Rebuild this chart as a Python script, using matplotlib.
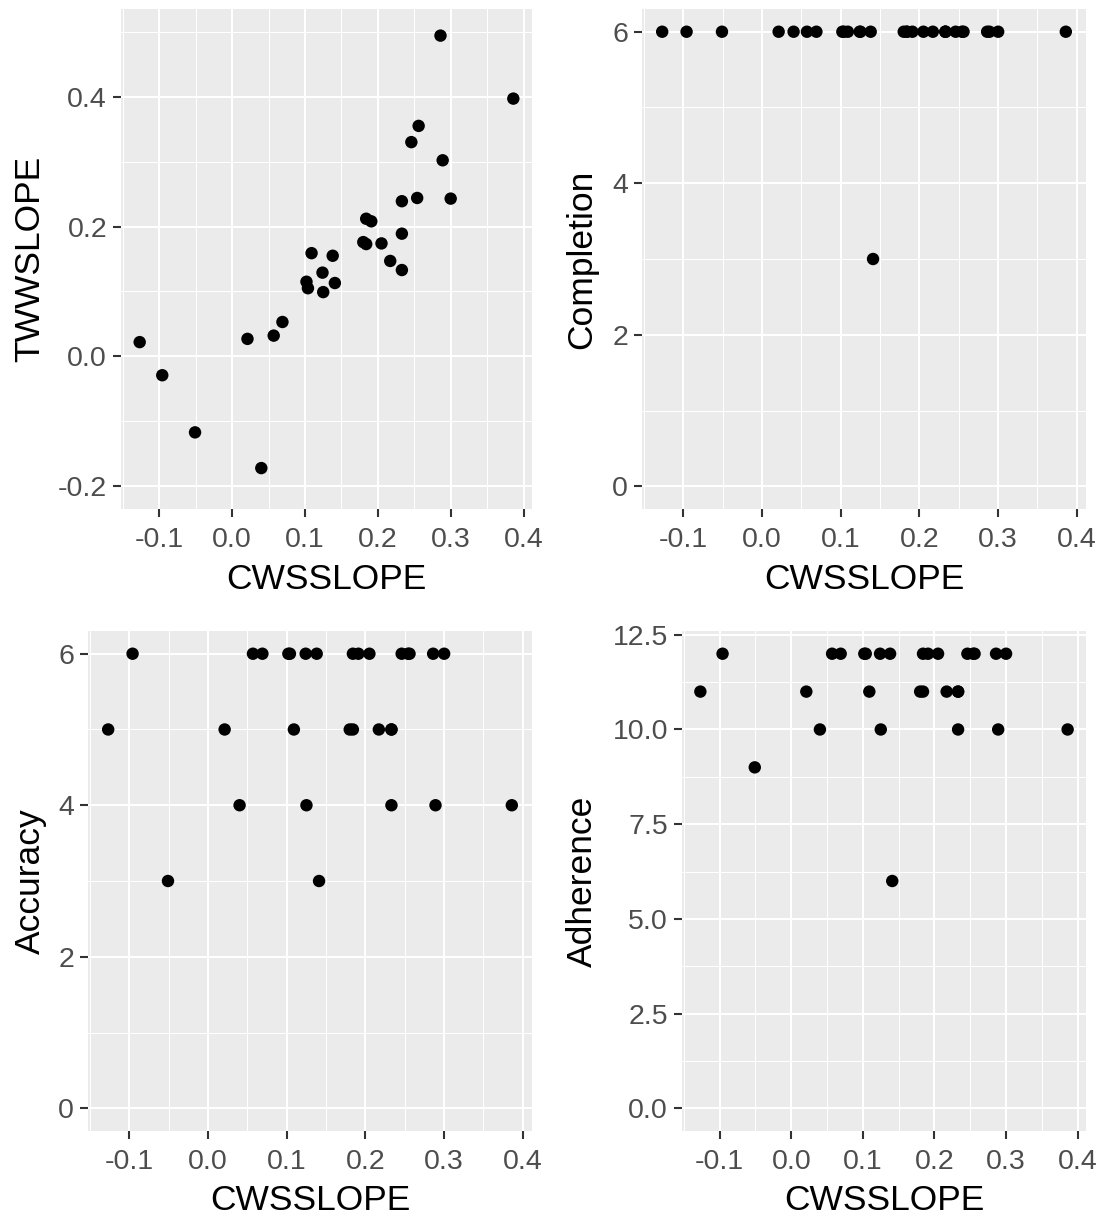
import numpy as np
import matplotlib
matplotlib.use("Agg")
import matplotlib.pyplot as plt
from matplotlib.ticker import FixedLocator

# ---- data ----
cwsslope = [-0.127, -0.096, -0.051, 0.021, 0.040, 0.057, 0.069, 0.102, 0.104, 0.109,
            0.124, 0.125, 0.138, 0.141, 0.180, 0.184, 0.184, 0.191, 0.205, 0.217,
            0.233, 0.233, 0.233, 0.246, 0.254, 0.256, 0.286, 0.289, 0.300, 0.386]
twwslope = [0.022, -0.029, -0.117, 0.027, -0.172, 0.032, 0.053, 0.115, 0.105, 0.159,
            0.129, 0.099, 0.155, 0.113, 0.176, 0.173, 0.212, 0.208, 0.174, 0.147,
            0.239, 0.189, 0.133, 0.330, 0.244, 0.355, 0.494, 0.302, 0.243, 0.397]
completion = [6, 6, 6, 6, 6, 6, 6, 6, 6, 6,
              6, 6, 6, 3, 6, 6, 6, 6, 6, 6,
              6, 6, 6, 6, 6, 6, 6, 6, 6, 6]
accuracy = [5, 6, 3, 5, 4, 6, 6, 6, 6, 5,
            6, 4, 6, 3, 5, 5, 6, 6, 6, 5,
            5, 4, 5, 6, 6, 6, 6, 4, 6, 4]
adherence = [11, 12, 9, 11, 10, 12, 12, 12, 12, 11,
             12, 10, 12, 6, 11, 11, 12, 12, 12, 11,
             11, 10, 11, 12, 12, 12, 12, 10, 12, 10]

x_ticks = [-0.1, 0.0, 0.1, 0.2, 0.3, 0.4]
x_ticklabels = ["-0.1", "0.0", "0.1", "0.2", "0.3", "0.4"]

W, H = 1105, 1220
fig = plt.figure(figsize=(W / 100, H / 100), dpi=100)
FONT = "Liberation Sans"
plt.rcParams["font.family"] = [FONT, "DejaVu Sans"]

BG = "#EBEBEB"


def expand(lo, hi, f=0.05):
    r = hi - lo
    return lo - f * r, hi + f * r


def make_ax(px_left, px_right, px_top, px_bottom):
    return fig.add_axes([px_left / W, 1 - px_bottom / H,
                         (px_right - px_left) / W, (px_bottom - px_top) / H])


def style(ax, x, y, ylims, yticks, yticklabels, yminor, ylabel, ylab_x_px, px_left, px_right, xlab_y_px, px_top, px_bottom):
    ax.set_facecolor(BG)
    for s in ax.spines.values():
        s.set_visible(False)
    ax.scatter(x, y, s=80, color="black", edgecolors="none", zorder=3)
    ax.set_xlim(*expand(min(x), max(x)))
    ax.set_ylim(*ylims)
    ax.set_xticks(x_ticks)
    ax.set_xticklabels(x_ticklabels)
    ax.xaxis.set_minor_locator(FixedLocator([-0.15, -0.05, 0.05, 0.15, 0.25, 0.35, 0.45]))
    ax.set_yticks(yticks)
    ax.set_yticklabels(yticklabels)
    ax.yaxis.set_minor_locator(FixedLocator(yminor))
    ax.grid(which="major", color="white", linewidth=1.5, zorder=0)
    ax.grid(which="minor", color="white", linewidth=0.75, zorder=0)
    ax.set_axisbelow(True)
    ax.tick_params(which="major", length=6, width=1.5, color="#333333",
                   labelsize=20.5, labelcolor="#4D4D4D", pad=4)
    ax.tick_params(axis="x", which="major", pad=7)
    ax.tick_params(which="minor", length=0)
    for lab in ax.get_xticklabels() + ax.get_yticklabels():
        lab.set_fontfamily([FONT, "DejaVu Sans"])
    ax.set_xlabel("CWSSLOPE", fontsize=25.5, color="black")
    ax.set_ylabel(ylabel, fontsize=25.5, color="black")
    wpx = px_right - px_left
    hpx = px_bottom - px_top
    ax.xaxis.set_label_coords(0.5, -(xlab_y_px - px_bottom) / hpx)
    ax.xaxis.label.set_va("center")
    ax.yaxis.set_label_coords(-(px_left - ylab_x_px) / wpx, 0.5)
    ax.yaxis.label.set_va("center")


# panel 1: TWWSLOPE
ax1 = make_ax(121, 532, 9, 509)
style(ax1, cwsslope, twwslope, expand(-0.2, 0.5), [-0.2, 0.0, 0.2, 0.4],
      ["-0.2", "0.0", "0.2", "0.4"], [-0.1, 0.1, 0.3, 0.5], "TWWSLOPE", 30, 121, 532, 580, 9, 509)

# panel 2: Completion
ax2 = make_ax(642, 1086, 9, 509)
style(ax2, cwsslope, completion, expand(0, max(completion)), [0, 2, 4, 6],
      ["0", "2", "4", "6"], [1, 3, 5], "Completion", 582, 642, 1086, 580, 9, 509)

# panel 3: Accuracy
ax3 = make_ax(88, 532, 631, 1131)
style(ax3, cwsslope, accuracy, expand(0, max(accuracy)), [0, 2, 4, 6],
      ["0", "2", "4", "6"], [1, 3, 5], "Accuracy", 30, 88, 532, 1200, 631, 1131)

# panel 4: Adherence
ax4 = make_ax(682, 1086, 631, 1131)
style(ax4, cwsslope, adherence, expand(0, max(adherence)), [0, 2.5, 5, 7.5, 10, 12.5],
      ["0.0", "2.5", "5.0", "7.5", "10.0", "12.5"], [1.25, 3.75, 6.25, 8.75, 11.25],
      "Adherence", 582, 682, 1086, 1200, 631, 1131)

fig.savefig("out.png", dpi=100, facecolor="white")
